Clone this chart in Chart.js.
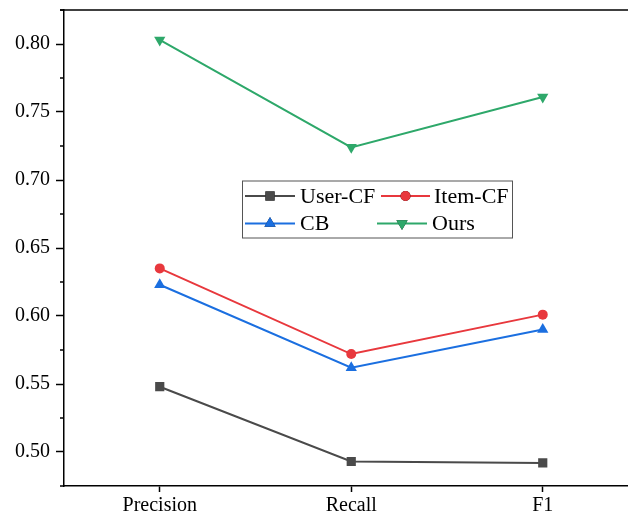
<!DOCTYPE html>
<html>
<head>
<meta charset="utf-8">
<script src="https://cdn.jsdelivr.net/npm/chart.js@4"></script>
<style>
html,body{margin:0;padding:0;overflow:hidden;background:#fff;}
#wrap{position:absolute;left:0;top:0;width:645px;height:519px;}
</style>
</head>
<body>
<div id="wrap"><canvas id="c" width="645" height="519"></canvas></div>
<script>
const categories = ['Precision', 'Recall', 'F1'];
const userCF = [0.548, 0.493, 0.492];
const itemCF = [0.635, 0.572, 0.601];
const cb = [0.623, 0.562, 0.590];
const ours = [0.803, 0.724, 0.761];
const seriesNames = ['User-CF', 'Item-CF', 'CB', 'Ours'];
const colors = ['#4a4a4a', '#e8383d', '#1b6fe0', '#2ea86a'];
const yMin = 0.475, yMax = 0.825;

const FONT = '"Liberation Serif", "Times New Roman", serif';

function ds(label, data, color, style, radius, rot) {
  return {
    label, data, borderColor: color, backgroundColor: color,
    pointStyle: style, pointRadius: radius, pointRotation: rot || 0,
    pointBorderWidth: 0, pointHoverRadius: radius,
    borderWidth: 2, tension: 0, fill: false
  };
}

const framePlugin = {
  id: 'frame',
  afterDraw(chart) {
    const ctx = chart.ctx, a = chart.chartArea, y = chart.scales.y;
    ctx.save();
    ctx.strokeStyle = '#000';
    ctx.lineWidth = 1.5;
    ctx.beginPath();
    ctx.moveTo(a.left - 4, a.top);
    ctx.lineTo(a.right, a.top);
    ctx.stroke();
    y.ticks.forEach(t => {
      const v = t.value;
      if (Math.abs(Math.round(v / 0.05) * 0.05 - v) > 1e-6) {
        const py = y.getPixelForValue(v);
        ctx.beginPath();
        ctx.moveTo(a.left - 4, py);
        ctx.lineTo(a.left, py);
        ctx.stroke();
      }
    });
    const bx = 242.5, by = 181, bw = 270, bh = 57;
    ctx.lineWidth = 1;
    ctx.strokeStyle = '#555';
    ctx.strokeRect(bx, by, bw, bh);
    const items = [
      {i: 0, x1: 245, x2: 295, tx: 300, y: 196},
      {i: 1, x1: 381, x2: 430, tx: 434, y: 196},
      {i: 2, x1: 245, x2: 295, tx: 300, y: 223.5},
      {i: 3, x1: 377, x2: 427, tx: 432, y: 223.5}
    ];
    ctx.font = '22px ' + FONT;
    ctx.textBaseline = 'middle';
    items.forEach(it => {
      const d = chart.data.datasets[it.i];
      ctx.strokeStyle = d.borderColor;
      ctx.lineWidth = 2;
      ctx.beginPath();
      ctx.moveTo(it.x1, it.y);
      ctx.lineTo(it.x2, it.y);
      ctx.stroke();
      Chart.helpers.drawPoint(ctx, {
        pointStyle: d.pointStyle, radius: d.pointRadius, rotation: d.pointRotation, borderWidth: 0
      }, (it.x1 + it.x2) / 2, it.y);
      ctx.fillStyle = d.backgroundColor;
      ctx.fill();
      ctx.fillStyle = '#000';
      ctx.fillText(seriesNames[it.i], it.tx, it.y + 1);
    });
    ctx.restore();
  }
};

new Chart(document.getElementById('c'), {
  type: 'line',
  data: {
    labels: categories,
    datasets: [
      ds(seriesNames[0], userCF, colors[0], 'rect', 6.5),
      ds(seriesNames[1], itemCF, colors[1], 'circle', 5),
      ds(seriesNames[2], cb, colors[2], 'triangle', 6.5),
      ds(seriesNames[3], ours, colors[3], 'triangle', 6.5, 180)
    ]
  },
  options: {
    responsive: false,
    animation: false,
    devicePixelRatio: 1,
    layout: {padding: {top: 10, left: 0, right: 1, bottom: 0}},
    plugins: {legend: {display: false}, tooltip: {enabled: false}},
    scales: {
      x: {
        type: 'category',
        offset: true,
        border: {display: true, color: '#000', width: 1.5},
        grid: {display: true, drawOnChartArea: false, offset: false, tickLength: 6, tickColor: '#000', tickWidth: 1.5},
        ticks: {color: '#000', font: {family: FONT, size: 20}, padding: 2, maxRotation: 0},
        afterFit(s) { s.height = 33; s.paddingLeft = 0; s.paddingRight = 0; }
      },
      y: {
        min: yMin, max: yMax,
        border: {display: true, color: '#000', width: 1.5},
        grid: {
          display: true, drawOnChartArea: false, tickLength: 8, tickWidth: 1.5,
          tickColor: c => (c.tick && Math.abs(Math.round(c.tick.value / 0.05) * 0.05 - c.tick.value) < 1e-6) ? '#000' : 'rgba(0,0,0,0)'
        },
        ticks: {
          stepSize: 0.025, color: '#000', font: {family: FONT, size: 20}, padding: 6,
          callback: v => (Math.abs(Math.round(v / 0.05) * 0.05 - v) < 1e-6) ? v.toFixed(2) : ''
        },
        afterFit(s) { s.width = 64; s.paddingTop = 0; s.paddingBottom = 0; }
      }
    }
  },
  plugins: [framePlugin]
});
</script>
</body>
</html>
